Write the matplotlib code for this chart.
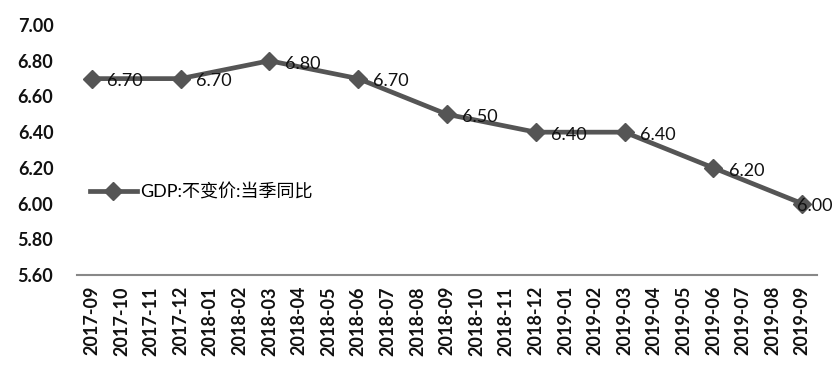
import matplotlib
matplotlib.use('Agg')
import matplotlib.pyplot as plt

plt.rcParams['font.family'] = ['Lato', 'Noto Sans CJK SC', 'DejaVu Sans']

months = ['2017-09', '2017-10', '2017-11', '2017-12', '2018-01', '2018-02', '2018-03',
          '2018-04', '2018-05', '2018-06', '2018-07', '2018-08', '2018-09', '2018-10',
          '2018-11', '2018-12', '2019-01', '2019-02', '2019-03', '2019-04', '2019-05',
          '2019-06', '2019-07', '2019-08', '2019-09']
quarters = ['2017-09', '2017-12', '2018-03', '2018-06', '2018-09', '2018-12',
            '2019-03', '2019-06', '2019-09']
gdp = [6.70, 6.70, 6.80, 6.70, 6.50, 6.40, 6.40, 6.20, 6.00]
yticks = [5.60, 5.80, 6.00, 6.20, 6.40, 6.60, 6.80, 7.00]

fig = plt.figure(figsize=(8.39, 3.74), dpi=100)
ax = fig.add_axes([0.0918, 0.2647, 0.882, 0.6683])

xs = [months.index(q) for q in quarters]
color = '#555555'
ax.plot(xs, gdp, color=color, linewidth=3.4, marker='D', markersize=9,
        label='GDP:不变价:当季同比')

for i, (x, v) in enumerate(zip(xs, gdp)):
    dx = 11 if i < len(xs) - 1 else -4
    ax.annotate(f'{v:.2f}', (x, v), xytext=(dx, -2), textcoords='offset points',
                ha='left', va='center', fontsize=13, color='#111111')

ax.set_xlim(-0.5, len(months) - 0.5)
ax.set_ylim(5.60, 7.00)
ax.set_yticks(yticks)
ax.set_yticklabels([f'{t:.2f}' for t in yticks], fontsize=13, fontweight='bold')
ax.set_xticks(range(len(months)))
ax.set_xticklabels(months, rotation=90, fontsize=13, fontweight='bold')
ax.tick_params(axis='both', length=0, pad=8, colors='#111111')
ax.tick_params(axis='y', pad=17)

for s in ['top', 'right', 'left']:
    ax.spines[s].set_visible(False)
ax.spines['bottom'].set_color('#888888')
ax.spines['bottom'].set_linewidth(1.5)

ax.legend(loc='center left', bbox_to_anchor=(-0.005, 0.332), frameon=False,
          fontsize=13, handlelength=2.6, handletextpad=0.2)

fig.savefig('out.png', dpi=100)
